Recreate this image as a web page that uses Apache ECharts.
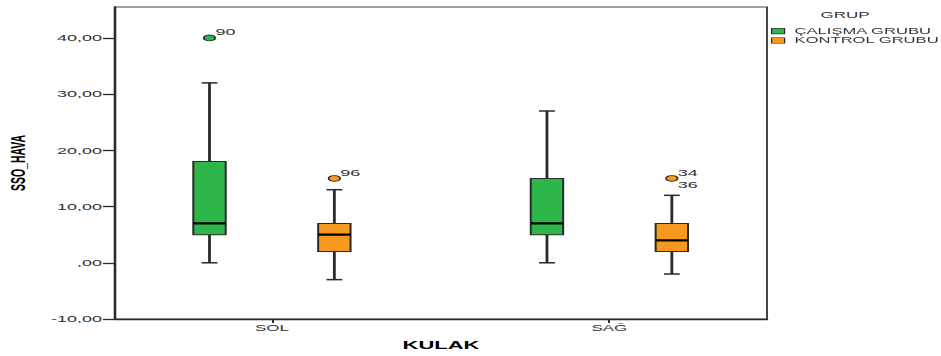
<!DOCTYPE html>
<html>
<head>
<meta charset="utf-8">
<script src="https://cdn.jsdelivr.net/npm/echarts@6/dist/echarts.min.js"></script>
<style>
html,body{margin:0;padding:0;background:#fff;overflow:hidden}
#wrap{width:941px;height:356px;overflow:hidden;position:relative}
#chart{position:absolute;left:0;top:0;width:470.5px;height:356px;transform:scale(2,1);transform-origin:0 0}
</style>
</head>
<body>
<div id="wrap"><div id="chart"></div></div>
<script>
// ---- data ----
const categories = ['SOL', 'SAĞ'];
const groupNames = ['ÇALIŞMA GRUBU', 'KONTROL GRUBU'];
// [category index, lower whisker, Q1, median, Q3, upper whisker]
const calismaBoxes = [[0, 0, 5, 7, 18, 32], [1, 0, 5, 7, 15, 27]];
const kontrolBoxes = [[0, -3, 2, 5, 7, 13], [1, -2, 2, 4, 7, 12]];
// outliers: [category index, value]
const calismaOutliers = [[0, 40]];
const calismaOutlierIds = [['90']];
const kontrolOutliers = [[0, 15], [1, 15]];
const kontrolOutlierIds = [['96'], ['34', '36']];
const yTicks = [-10, 0, 10, 20, 30, 40];
const xTicks = [0, 1];

// ---- styling / layout ----
const SX = 2; // horizontal stretch of the original picture
const FONT = '"Liberation Sans", Arial, Helvetica, sans-serif';
const GREEN = '#2fb64a';
const ORANGE = '#f7981f';
const LINE = '#2a2a2a';
const GROUP_OFFSET = 0.185;
const BOX_W = 0.096;
const CAP_W = 0.047;

const chart = echarts.init(document.getElementById('chart'), null, {renderer: 'svg', width: 470.5, height: 356});

function ln(x1, y1, x2, y2, w, color) {
  return {type: 'line', shape: {x1, y1, x2, y2}, style: {stroke: color || LINE, lineWidth: w}};
}

function boxSeries(name, data, offset, color) {
  return {
    type: 'custom', name, data,
    itemStyle: {color},
    encode: {x: 0, y: [1, 2, 3, 4, 5]},
    renderItem(params, api) {
      const c = api.value(0) + offset;
      const lo = api.coord([c, api.value(1)]);
      const q1 = api.coord([c, api.value(2)]);
      const md = api.coord([c, api.value(3)]);
      const q3 = api.coord([c, api.value(4)]);
      const hi = api.coord([c, api.value(5)]);
      const bw = api.size([BOX_W, 0])[0];
      const cw = api.size([CAP_W, 0])[0];
      const x = md[0];
      return {type: 'group', children: [
        ln(x, hi[1], x, q3[1], 1.4),
        ln(x, q1[1], x, lo[1], 1.4),
        ln(x - cw / 2, hi[1], x + cw / 2, hi[1], 1.5),
        ln(x - cw / 2, lo[1], x + cw / 2, lo[1], 1.5),
        {type: 'rect', shape: {x: x - bw / 2, y: q3[1], width: bw, height: q1[1] - q3[1]},
         style: {fill: color, stroke: LINE, lineWidth: 1}},
        ln(x - bw / 2, md[1], x + bw / 2, md[1], 2.2, '#000')
      ]};
    }
  };
}

function outlierSeries(name, data, ids, offset, color) {
  return {
    type: 'custom', name, data,
    itemStyle: {color},
    encode: {x: 0, y: 1},
    renderItem(params, api) {
      const p = api.coord([api.value(0) + offset, api.value(1)]);
      const labels = ids[params.dataIndex] || [];
      const children = [{type: 'circle', shape: {cx: p[0], cy: p[1], r: 2.9},
        style: {fill: color, stroke: LINE, lineWidth: 0.8}}];
      labels.forEach((t, i) => {
        const va = i === 0 ? 'bottom' : 'top';
        children.push({type: 'text', x: p[0] + 3, y: i === 0 ? p[1] - 1.5 : p[1] + 2,
          style: {text: t, fill: '#333', font: '9px ' + FONT,
                  align: 'left', textAlign: 'left', verticalAlign: va, textVerticalAlign: va}});
      });
      return {type: 'group', children};
    }
  };
}

const yFmt = v => (v === 0 ? ',00' : v.toFixed(2).replace('.', ','));

const option = {
  animation: false,
  backgroundColor: '#fff',
  textStyle: {fontFamily: FONT},
  grid: {left: 115 / SX, right: (941 - 767) / SX, top: 7, bottom: 37, show: true,
         borderColor: '#444', borderWidth: 1, backgroundColor: 'transparent',
         containLabel: false, outerBoundsMode: 'none'},
  xAxis: {
    type: 'value', min: -0.465, max: 1.467,
    axisLine: {show: true, onZero: false, lineStyle: {color: LINE, width: 1.3}},
    axisTick: {show: true, length: 4, customValues: xTicks, lineStyle: {color: LINE, width: 1}},
    axisLabel: {customValues: xTicks, margin: 5, fontSize: 8.5, color: '#333', fontFamily: FONT,
                formatter: v => categories[Math.round(v)] || ''},
    splitLine: {show: false},
    name: 'KULAK', nameLocation: 'middle', nameGap: 21,
    nameTextStyle: {fontSize: 11, fontWeight: 'bold', color: '#000', fontFamily: FONT}
  },
  yAxis: {
    type: 'value', min: -10, max: 45.5,
    axisLine: {show: true, onZero: false, lineStyle: {color: LINE, width: 1.3}},
    axisTick: {show: true, length: 6, customValues: yTicks, lineStyle: {color: LINE, width: 1.3}},
    axisLabel: {customValues: yTicks, margin: 6.5, fontSize: 9, color: '#333', fontFamily: FONT, formatter: yFmt},
    splitLine: {show: false},
    name: 'SSO_HAVA', nameLocation: 'middle', nameRotate: 90, nameGap: 43,
    nameTextStyle: {fontSize: 10.5, fontWeight: 'bold', color: '#000', fontFamily: FONT}
  },
  legend: {
    orient: 'vertical', left: 771 / SX, top: 26.5, padding: 0,
    itemWidth: 6.5, itemHeight: 5.5, itemGap: 0, icon: 'rect', selectedMode: false,
    textStyle: {fontSize: 8.3, color: '#333', fontFamily: FONT, lineHeight: 9.3},
    itemStyle: {borderColor: LINE, borderWidth: 0.6},
    data: groupNames
  },
  graphic: [{
    type: 'text', x: 845 / SX, y: 10.5,
    style: {text: 'GRUP', fill: '#333', font: '8.5px ' + FONT,
            align: 'center', textAlign: 'center', verticalAlign: 'top', textVerticalAlign: 'top'}
  }],
  series: [
    boxSeries(groupNames[0], calismaBoxes, -GROUP_OFFSET, GREEN),
    boxSeries(groupNames[1], kontrolBoxes, GROUP_OFFSET, ORANGE),
    outlierSeries(groupNames[0], calismaOutliers, calismaOutlierIds, -GROUP_OFFSET, GREEN),
    outlierSeries(groupNames[1], kontrolOutliers, kontrolOutlierIds, GROUP_OFFSET, ORANGE)
  ]
};
chart.setOption(option);
</script>
</body>
</html>
